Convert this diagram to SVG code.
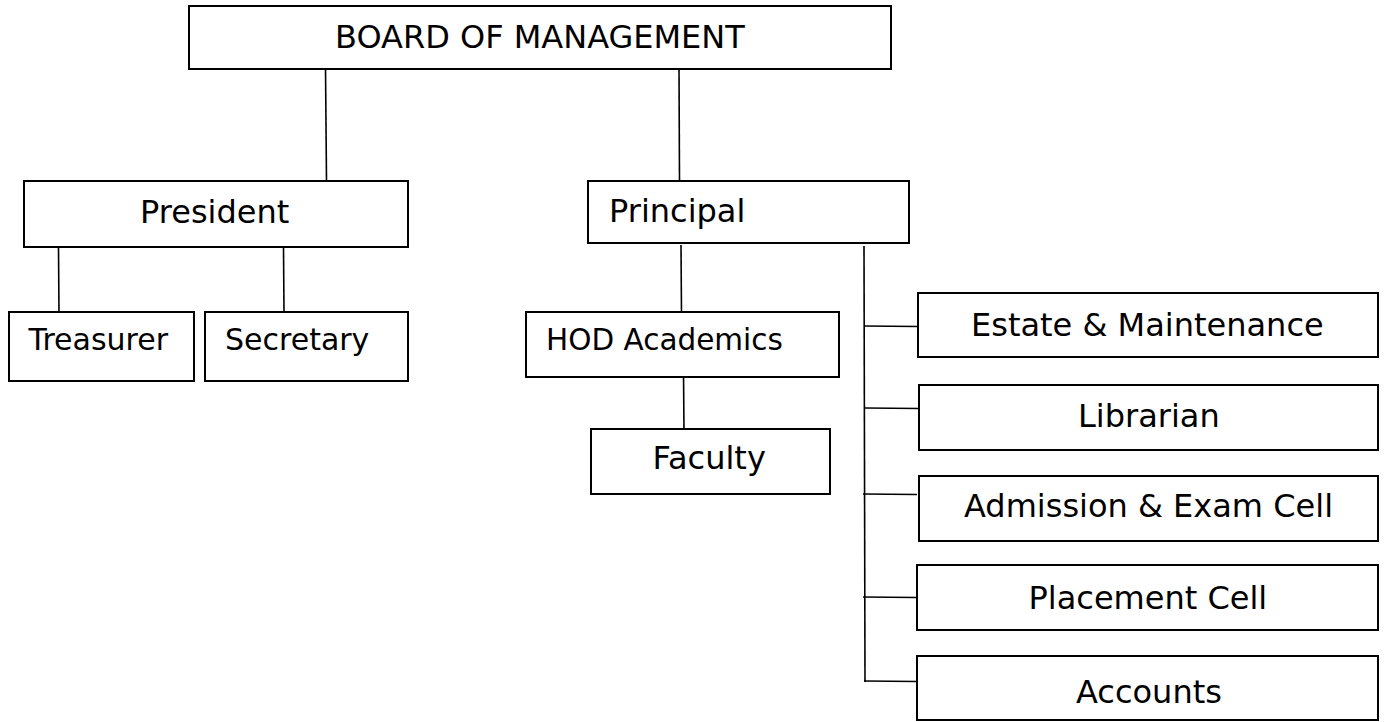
<svg xmlns="http://www.w3.org/2000/svg" width="1388" height="722" viewBox="0 0 1388 722">
<style>
.box{fill:#fff;stroke:#000;stroke-width:2}
.ln{stroke:#000;stroke-width:1.6;fill:none}
text{font-family:"DejaVu Sans",Verdana,sans-serif;fill:#000}
.t32{font-size:32px}
.t30{font-size:30px}
.t29{font-size:29.5px}
</style>
<rect width="1388" height="722" fill="#fff"/>
<g id="connectors">
<line class="ln" x1="325.5" y1="67" x2="326.5" y2="181"/>
<line class="ln" x1="679" y1="67" x2="679.5" y2="181"/>
<line class="ln" x1="58.5" y1="246" x2="59" y2="315"/>
<line class="ln" x1="283.5" y1="246" x2="284" y2="314"/>
<line class="ln" x1="681" y1="245" x2="681.5" y2="314"/>
<line class="ln" x1="683.5" y1="371" x2="684" y2="433"/>
<line class="ln" x1="864" y1="246" x2="865" y2="682"/>
<line class="ln" x1="864" y1="326" x2="918" y2="326.5"/>
<line class="ln" x1="865" y1="408" x2="919" y2="408.5"/>
<line class="ln" x1="863" y1="494" x2="917" y2="494.5"/>
<line class="ln" x1="863" y1="597" x2="917" y2="597.5"/>
<line class="ln" x1="864" y1="681" x2="917" y2="681.5"/>
</g>
<g id="board"><rect class="box" x="189" y="6" width="702" height="63"/><text class="t32" x="335" y="48">BOARD OF MANAGEMENT</text></g>
<g id="president"><rect class="box" x="24" y="181" width="384" height="66"/><text class="t32" x="140" y="223">President</text></g>
<g id="principal"><rect class="box" x="588" y="181" width="321" height="62"/><text class="t32" x="609" y="222">Principal</text></g>
<g id="treasurer"><rect class="box" x="9" y="312" width="185" height="69"/><text class="t30" x="28.5" y="350">Treasurer</text></g>
<g id="secretary"><rect class="box" x="205" y="312" width="203" height="69"/><text class="t30" x="225" y="350">Secretary</text></g>
<g id="hod"><rect class="box" x="526" y="312" width="313" height="65"/><text class="t29" x="546" y="350">HOD Academics</text></g>
<g id="faculty"><rect class="box" x="591" y="429" width="239" height="65"/><text class="t32" x="652.5" y="469">Faculty</text></g>
<g id="estate"><rect class="box" x="918" y="293" width="460" height="64"/><text class="t32" x="971" y="336">Estate &amp; Maintenance</text></g>
<g id="librarian"><rect class="box" x="919" y="385" width="459" height="65"/><text class="t32" x="1078" y="427">Librarian</text></g>
<g id="admission"><rect class="box" x="919" y="476" width="459" height="65"/><text class="t32" x="964" y="517">Admission &amp; Exam Cell</text></g>
<g id="placement"><rect class="box" x="917" y="565" width="461" height="65"/><text class="t32" x="1028.5" y="609">Placement Cell</text></g>
<g id="accounts"><rect class="box" x="917" y="656" width="461" height="64"/><text class="t32" x="1076" y="703">Accounts</text></g>
</svg>
